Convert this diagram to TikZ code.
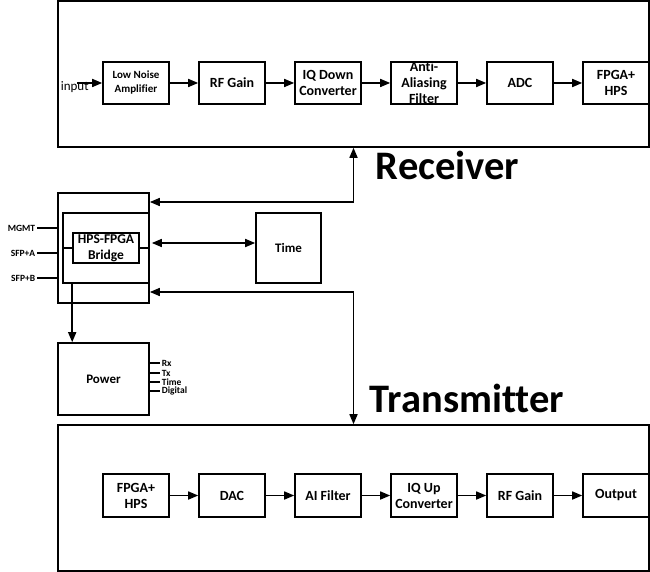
\documentclass[tikz,border=0pt]{standalone}
\usepackage{fontspec}
\setmainfont[Ligatures=NoCommon]{Carlito}
\usetikzlibrary{arrows.meta}
\begin{document}
\begin{tikzpicture}[x=1pt,y=-1pt,line width=1.6pt,
  blk/.style={draw, minimum width=66pt, minimum height=42pt, inner sep=0pt, align=center, font=\fontsize{14}{16}\selectfont\bfseries},
  frame/.style={draw, inner sep=0pt},
  lbl/.style={inner sep=1pt, font=\fontsize{9.5}{10}\selectfont\bfseries},
  arr/.style={-{Triangle[length=10pt,width=8pt]}},
  darr/.style={{Triangle[length=10pt,width=8pt]}-{Triangle[length=10pt,width=8pt]}},
  big/.style={inner sep=0pt, anchor=base west, font=\fontsize{40.5}{41}\selectfont\bfseries}]
\useasboundingbox (0,0) rectangle (650,572);
% outer frames
\node[frame, minimum width=591pt, minimum height=146pt] (rx) at (353.5,74) {};
\node[frame, minimum width=591pt, minimum height=146pt] (tx) at (353.5,498) {};
\node[big] (rxt) at (375,180) {Receiver};
\node[big] (txt) at (369,412) {Transmitter};
% receiver chain
\node[blk, font=\fontsize{11}{14}\selectfont\bfseries] (lna) at (136,83) {Low Noise\\Amplifier};
\node[blk] (rfg) at (232,83) {RF Gain};
\node[blk] (iqd) at (328,83) {IQ Down\\Converter};
\node[blk] (aaf) at (424,83) {Anti-\\Aliasing\\Filter};
\node[blk] (adc) at (520,83) {ADC};
\node[blk] (fpr) at (616,83) {FPGA+\\HPS};
\coordinate (inp) at (77,83);
\node[inner sep=0pt, anchor=base west, font=\fontsize{13}{15}\selectfont] (inl) at (60,91) {input};
\draw[arr] (inp) -- (lna);
\draw[arr] (lna) -- (rfg);
\draw[arr] (rfg) -- (iqd);
\draw[arr] (iqd) -- (aaf);
\draw[arr] (aaf) -- (adc);
\draw[arr] (adc) -- (fpr);
% transmitter chain
\node[blk, minimum height=43pt] (fpt) at (136,495.5) {FPGA+\\HPS};
\node[blk, minimum height=43pt] (dac) at (232,495.5) {DAC};
\node[blk, minimum height=43pt] (aif) at (328,495.5) {AI Filter};
\node[blk, minimum height=43pt] (iqu) at (424,495.5) {IQ Up\\Converter};
\node[blk, minimum height=43pt] (rft) at (520,495.5) {RF Gain};
\node[blk, minimum height=43pt] (out) at (616,495.5) {Output};
\draw[arr] (fpt) -- (dac);
\draw[arr] (dac) -- (aif);
\draw[arr] (aif) -- (iqu);
\draw[arr] (iqu) -- (rft);
\draw[arr] (rft) -- (out);
% bridge
\node[frame, minimum width=91pt, minimum height=110pt] (bout) at (103.5,248) {};
\node[frame, minimum width=86pt, minimum height=70pt] (binn) at (106,248) {};
\node[frame, minimum width=66pt, minimum height=30pt, align=center, font=\fontsize{13.5}{16}\selectfont\bfseries] (brg) at (106,248) {HPS-FPGA\\Bridge};
\draw (binn.west) -- (brg.west);
\draw (brg.east) -- (binn.east);
\node[lbl, anchor=east] (mg) at (37,228) {MGMT};
\node[lbl, anchor=east] (sa) at (37,253) {SFP+A};
\node[lbl, anchor=east] (sb) at (37,278) {SFP+B};
\draw (mg.east) -- (bout.west |- mg.east);
\draw (sa.east) -- (bout.west |- sa.east);
\draw (sb.east) -- (bout.west |- sb.east);
% time
\node[frame, minimum width=65pt, minimum height=70pt, font=\fontsize{13}{15}\selectfont\bfseries] (time) at (288.5,248) {Time};
\draw[darr] ([yshift=5pt,xshift=2pt]binn.east) -- ([yshift=5pt]time.west);
% power
\node[frame, minimum width=91pt, minimum height=72pt, font=\fontsize{13}{15}\selectfont\bfseries] (pwr) at (103.5,379) {Power};
\draw[arr] (binn.south -| brg.west) -- (pwr.north -| brg.west);
\node[lbl, anchor=west] (prx) at (160,363) {Rx};
\node[lbl, anchor=west] (ptx) at (160,373) {Tx};
\node[lbl, anchor=west] (ptm) at (160,382) {Time};
\node[lbl, anchor=west] (pdg) at (160,391) {Digital};
\draw (pwr.east |- prx.west) -- (prx.west);
\draw (pwr.east |- ptx.west) -- (ptx.west);
\draw (pwr.east |- ptm.west) -- (ptm.west);
\draw (pwr.east |- pdg.west) -- (pdg.west);
% links to receiver and transmitter
\draw[darr] ([yshift=46pt]bout.east) -| (rx.south);
\draw[darr] ([yshift=-44pt]bout.east) -| (tx.north);
\end{tikzpicture}
\end{document}
